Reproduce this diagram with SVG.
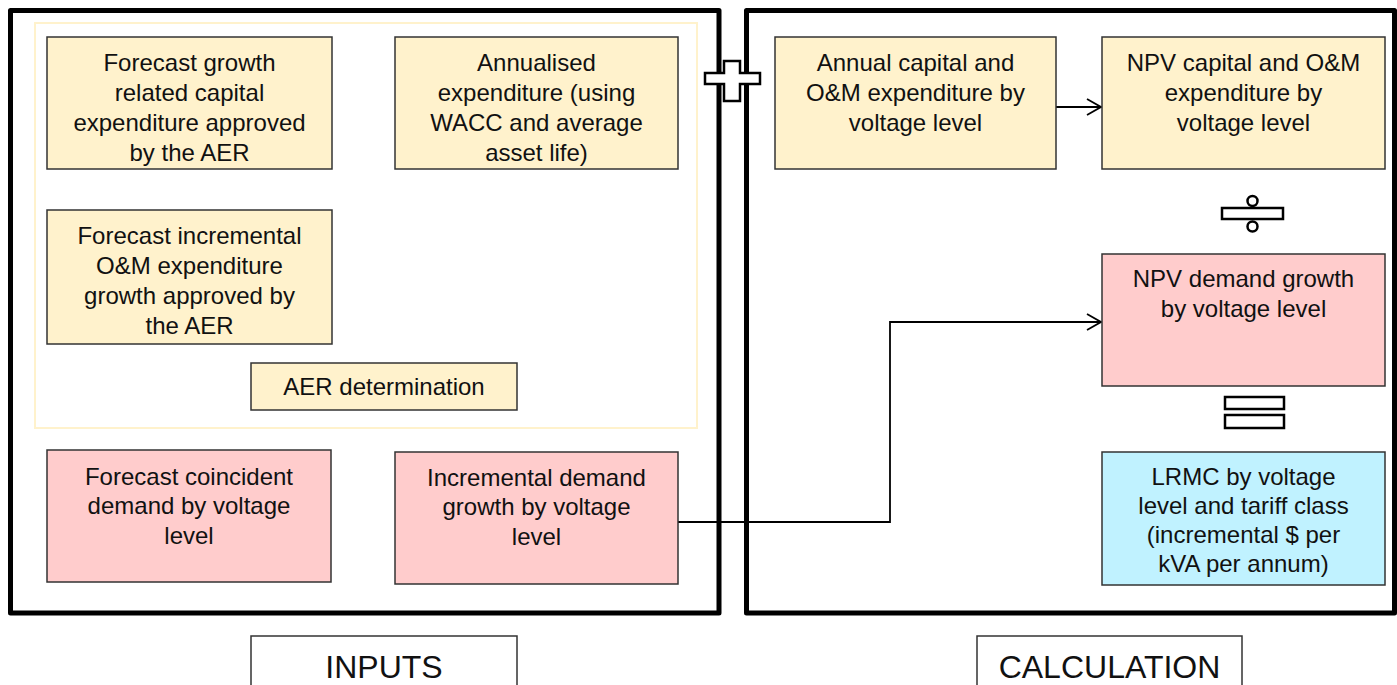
<svg xmlns="http://www.w3.org/2000/svg" width="1397" height="685" viewBox="0 0 1397 685">
  <defs>
    <style>
      .frame { fill: none; stroke: #000; stroke-width: 5; stroke-linejoin: round; }
      .inner { fill: none; stroke: #FFF2CC; stroke-width: 2; }
      .box { stroke: #333; stroke-width: 1.5; }
      .yellow { fill: #FFF2CC; }
      .pink { fill: #FFCCCC; }
      .cyan { fill: #C0F2FF; }
      .label { fill: #fff; stroke: #333; stroke-width: 1.5; }
      .op { fill: #fff; stroke: #000; stroke-width: 2.5; }
      text { font-family: "Liberation Sans", Arial, sans-serif; font-size: 24px; fill: #111; text-anchor: middle; }
      .big { font-size: 32px; }
      .conn { fill: none; stroke: #000; stroke-width: 1.8; }
    </style>
    <marker id="open" viewBox="0 0 16 18" refX="15" refY="9" markerWidth="16" markerHeight="18" markerUnits="userSpaceOnUse" orient="auto">
      <path d="M1,1 L15,9 L1,17" fill="none" stroke="#000" stroke-width="1.8"/>
    </marker>
  </defs>

  <!-- panel frames -->
  <g id="frames">
    <rect class="frame" x="10.5" y="10.5" width="708.5" height="602.5"/>
    <rect class="frame" x="746.5" y="10.5" width="648" height="602.5"/>
    <rect class="inner" x="35" y="23" width="662" height="405"/>
  </g>

  <!-- connectors -->
  <g id="connectors">
    <line class="conn" x1="1056" y1="107" x2="1101" y2="107" marker-end="url(#open)"/>
    <polyline class="conn" points="678,522 890,522 890,322 1101,322" marker-end="url(#open)"/>
  </g>

  <!-- inputs -->
  <g id="forecast-capex">
    <rect class="box yellow" x="47" y="37" width="285" height="132"/>
    <text x="189.5" y="71">Forecast growth</text>
    <text x="189.5" y="101">related capital</text>
    <text x="189.5" y="131">expenditure approved</text>
    <text x="189.5" y="161">by the AER</text>
  </g>
  <g id="annualised">
    <rect class="box yellow" x="395" y="37" width="283" height="132"/>
    <text x="536.5" y="71">Annualised</text>
    <text x="536.5" y="101">expenditure (using</text>
    <text x="536.5" y="131">WACC and average</text>
    <text x="536.5" y="161">asset life)</text>
  </g>
  <g id="forecast-om">
    <rect class="box yellow" x="47" y="210" width="285" height="134"/>
    <text x="189.5" y="244">Forecast incremental</text>
    <text x="189.5" y="274">O&amp;M expenditure</text>
    <text x="189.5" y="304">growth approved by</text>
    <text x="189.5" y="334">the AER</text>
  </g>
  <g id="aer-determination">
    <rect class="box yellow" x="251" y="363" width="266" height="47"/>
    <text x="384" y="395">AER determination</text>
  </g>
  <g id="coincident-demand">
    <rect class="box pink" x="47" y="450" width="284" height="132"/>
    <text x="189" y="485">Forecast coincident</text>
    <text x="189" y="514">demand by voltage</text>
    <text x="189" y="544">level</text>
  </g>
  <g id="incremental-demand">
    <rect class="box pink" x="395" y="452" width="283" height="132"/>
    <text x="536.5" y="486">Incremental demand</text>
    <text x="536.5" y="515">growth by voltage</text>
    <text x="536.5" y="545">level</text>
  </g>

  <!-- calculation -->
  <g id="annual-expenditure">
    <rect class="box yellow" x="775" y="37" width="281" height="132"/>
    <text x="915.5" y="71">Annual capital and</text>
    <text x="915.5" y="101">O&amp;M expenditure by</text>
    <text x="915.5" y="131">voltage level</text>
  </g>
  <g id="npv-expenditure">
    <rect class="box yellow" x="1102" y="37" width="283" height="132"/>
    <text x="1243.5" y="71">NPV capital and O&amp;M</text>
    <text x="1243.5" y="101">expenditure by</text>
    <text x="1243.5" y="131">voltage level</text>
  </g>
  <g id="npv-demand">
    <rect class="box pink" x="1102" y="254" width="283" height="132"/>
    <text x="1243.5" y="287">NPV demand growth</text>
    <text x="1243.5" y="317">by voltage level</text>
  </g>
  <g id="lrmc">
    <rect class="box cyan" x="1102" y="452" width="283" height="133"/>
    <text x="1243.5" y="485">LRMC by voltage</text>
    <text x="1243.5" y="514">level and tariff class</text>
    <text x="1243.5" y="543">(incremental $ per</text>
    <text x="1243.5" y="572">kVA per annum)</text>
  </g>

  <!-- operators -->
  <g id="plus">
    <path class="op" d="M724,61 H740 V73 H760 V84 H740 V101 H724 V84 H705 V73 H724 Z"/>
  </g>
  <g id="divide">
    <rect class="op" x="1222" y="208" width="61" height="11"/>
    <circle class="op" cx="1252.5" cy="201" r="5"/>
    <circle class="op" cx="1252.5" cy="226.5" r="5"/>
  </g>
  <g id="equals">
    <rect class="op" x="1225" y="397" width="59" height="12"/>
    <rect class="op" x="1225" y="415" width="59" height="13"/>
  </g>

  <!-- panel labels -->
  <g id="inputs-label">
    <rect class="label" x="251" y="636" width="266" height="60"/>
    <text class="big" x="384" y="678">INPUTS</text>
  </g>
  <g id="calculation-label">
    <rect class="label" x="977" y="636" width="265" height="60"/>
    <text class="big" x="1109.5" y="678">CALCULATION</text>
  </g>
</svg>
